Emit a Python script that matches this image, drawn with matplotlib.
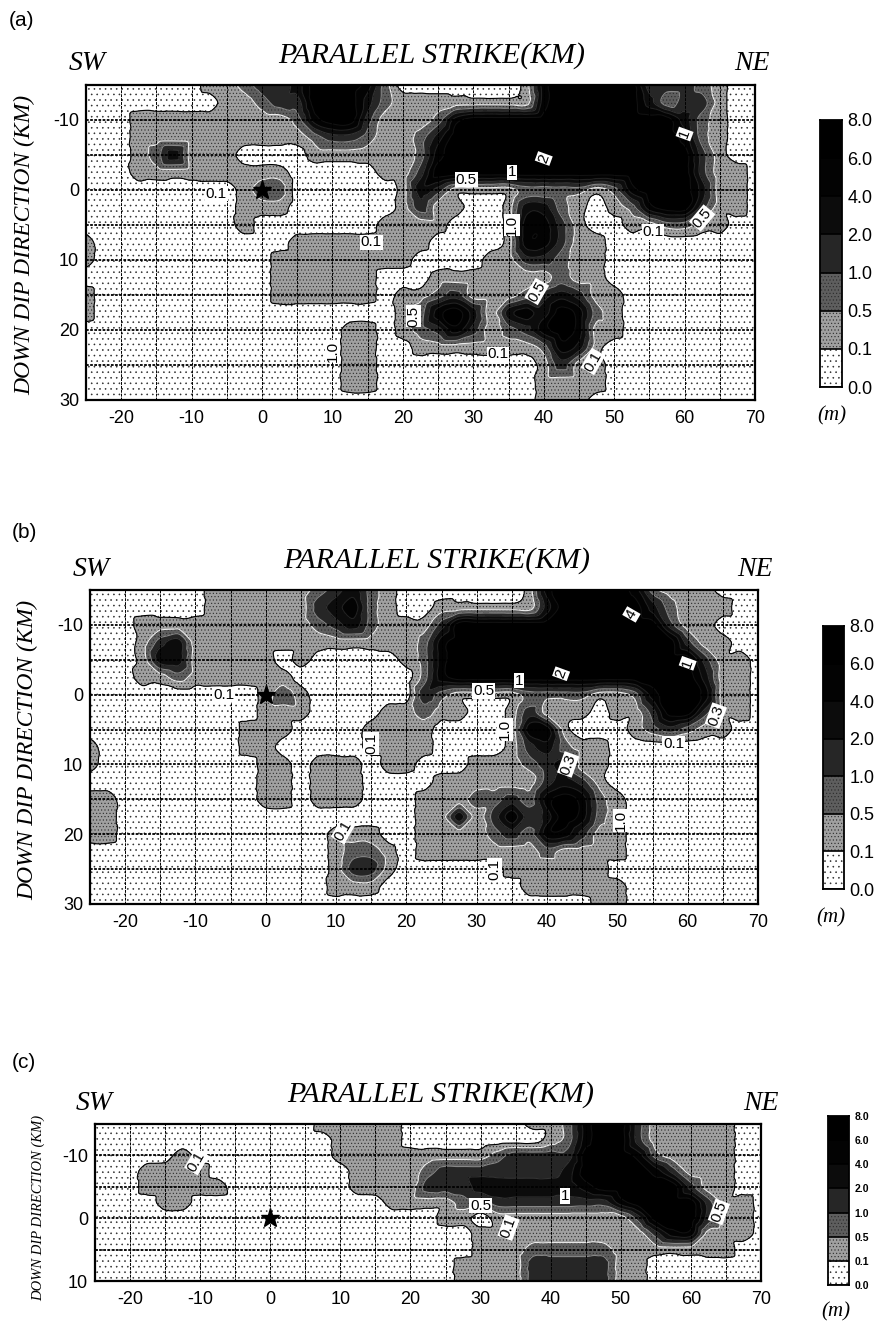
import numpy as np
import matplotlib
matplotlib.use("Agg")
import matplotlib.pyplot as plt
import matplotlib.tri as mtri

plt.rcParams['hatch.linewidth'] = 0.4
plt.rcParams['hatch.color'] = '#2a2a2a'
plt.rcParams['axes.unicode_minus'] = False

W, H = 883, 1325

# slip band per grid node: 0 <0.1, 1 0.1-0.5, 2 0.5-1, 3 1-2, 4 2-4, 5 4-6, 6 6-8 (m)
strike_km = np.arange(-25, 70.1, 2.5)
dip_ab_km = np.arange(-15, 30.1, 2.5)
dip_c_km = np.arange(-15, 10.1, 2.5)

bands_a = [
    "000000011233466652000000015666663332100",
    "000000001123366642111111115666664233100",
    "000111111111256631112566666666666642100",
    "000111111111123321124666666666666652100",
    "000124111000011111125666666666666663100",
    "000111111111000001136666666666666663110",
    "000000000122000000143111122221256664110",
    "000000000111000000131100144210125663110",
    "000000000100000001111000155310011221100",
    "100000000000111111110000155311000000000",
    "100000000001111111100001133211000000000",
    "000000000001111110001111111211000000000",
    "100000000001111110112311123431100000000",
    "100000000000000000125641454652100000000",
    "000000000000000110123531235651100000000",
    "000000000000000110011111112541000000000",
    "000000000000000110000000001311000000000",
    "000000000000000110000000001111000000000",
    "000000000000000000000000001110000000000",
]
bands_b = [
    "000000011111123421000000015666652111000",
    "000000011111134521001111114666664211100",
    "000111111111123421113666666666666311000",
    "000134111111111111125666666666666631100",
    "000144111110100000125666666666666663110",
    "000112111111000000025666666666666664110",
    "000000000012100000032111122221125665110",
    "000000000011100001121100131110113663110",
    "000000000111000011110000155100012321100",
    "100000000110000011110000134211000000000",
    "100000000011011101100011123411000000000",
    "000000000011011100001111113431000000000",
    "110000000011011100011122325652100000000",
    "110000000000000000011413534652100000000",
    "110000000000001110011112325531100000000",
    "000000000000001221011111112111100000000",
    "000000000000001331000000111111000000000",
    "000000000000001110000000011111100000000",
    "000000000000000000000000000001100000000",
]
bands_c = [
    "000000000000011111000000011256631111100",
    "000000000000001111000000001256631111100",
    "000001000000001111111112333366652111100",
    "000111100000000111123333333466665311100",
    "000111110000000111133344444456666631100",
    "000011000000000001111223333333566663110",
    "000000000000000000001101111111136663110",
    "000000000000000000000011111111113551110",
    "000000000000000000000011122222111111100",
    "000000000000000000000111133333110000000",
    "000000000000000000000111133333110000000",
]

colorbar_labels = ["0.0", "0.1", "0.5", "1.0", "2.0", "4.0", "6.0", "8.0"]
x_ticks = [-20, -10, 0, 10, 20, 30, 40, 50, 60, 70]
y_ticks_ab = [-10, 0, 10, 20, 30]
y_ticks_c = [-10, 0, 10]

labels_a = [("0.1", -6.5, 0.5, 0), ("0.5", 29, -1.5, 0), ("1", 35.5, -2.5, 0), ("2", 40, -4.5, 70),
            ("1", 60, -8, 70), ("0.5", 62.5, 4, 50), ("0.1", 55.5, 6, 0), ("0.1", 15.5, 7.5, 0),
            ("1.0", 35.5, 5, 90), ("0.5", 39, 14.5, 60), ("0.5", 21.5, 18, 90), ("1.0", 10, 23, 90),
            ("0.1", 33.5, 23.5, 0), ("0.1", 47, 24.5, 60)]
labels_b = [("0.1", -6, 0, 0), ("0.5", 31, -0.5, 0), ("1", 36, -2, 0), ("2", 42, -3, 70),
            ("1", 60, -4.5, 70), ("4", 52, -11.5, 60), ("0.3", 64, 3, 70), ("0.1", 58, 7, 0),
            ("1.0", 34, 5, 90), ("0.3", 43, 10, 70), ("1.0", 50.5, 18, 90), ("0.1", 15, 7, 90),
            ("0.1", 32.5, 25, 90), ("0.1", 11, 19.5, 60)]
labels_c = [("0.1", -10.5, -9, 60), ("0.5", 30, -2, 0), ("1", 42, -3.5, 0),
            ("0.1", 34, 1.5, 70), ("0.5", 64, -1, 70)]

band_colors = ['#ffffff', '#a0a0a0', '#5e5e5e', '#262626', '#0c0c0c', '#030303', '#000000']
band_hatches = ['...', '.....', '.....', None, None, None, None]
levels = [-9, 0.5, 1.5, 2.5, 3.5, 4.5, 5.5, 15]
line_colors = ['k', '#eeeeee', '#888888', '#333333', '#222222', '#111111']

SANS = 'Liberation Sans'
SERIF = 'Liberation Serif'

fig = plt.figure(figsize=(W / 100, H / 100), dpi=100, facecolor='white')


def add_ax(l, t, r, b):
    return fig.add_axes([l / W, 1 - b / H, (r - l) / W, (b - t) / H])


def put(x, y, s, **kw):
    kw.setdefault('ha', 'center')
    kw.setdefault('va', 'center')
    fig.text(x / W, 1 - y / H, s, **kw)


def panel(bands, dip, box, bar, ylim, yticks, labels, texts, tick_fs, bar_fs, label_fs):
    ax = add_ax(*box)
    z = np.array([[int(c) for c in row] for row in bands], dtype=float)
    gx, gy = np.meshgrid(strike_km, dip)
    tri = mtri.Triangulation(gx.ravel(), gy.ravel())
    refiner = mtri.UniformTriRefiner(tri)
    interp = mtri.CubicTriInterpolator(tri, z.ravel(), kind='geom')
    tri_f, z_f = refiner.refine_field(z.ravel(), triinterpolator=interp, subdiv=3)
    ax.tricontourf(tri_f, z_f, levels=levels, colors=band_colors, hatches=band_hatches)
    ax.tricontour(tri_f, z_f, levels=levels[1:-1], colors=line_colors, linewidths=0.8)
    ax.set_xlim(-25, 70)
    ax.set_ylim(ylim[1], ylim[0])
    for xv in np.arange(-20, 70, 5):
        ax.axvline(xv, color='k', lw=0.7, ls=(0, (3, 1)), zorder=3)
    for yv in np.arange(ylim[0] + 5, ylim[1], 5):
        ax.axhline(yv, color='k', lw=1.3, ls=(0, (1.5, 0.8)), zorder=3)
    ax.plot([0], [0], marker='*', ms=14, color='k', mec='k', zorder=5)
    for s, xv, yv, rot in labels:
        ax.text(xv, yv, s, fontsize=label_fs, family=SANS, rotation=rot, ha='center', va='center', zorder=6,
                color='k', bbox=dict(fc='white', ec='none', pad=0.5))
    ax.set_xticks(x_ticks)
    ax.set_yticks(yticks)
    ax.tick_params(length=0, labelsize=tick_fs, pad=7)
    ax.tick_params(axis='y', pad=5)
    for t in ax.get_xticklabels() + ax.get_yticklabels():
        t.set_family(SANS)
    for s in ax.spines.values():
        s.set_linewidth(1.6)

    cax = add_ax(*bar)
    for i in range(7):
        cax.bar(0.5, 1, bottom=i, width=1, color=band_colors[i], hatch=band_hatches[i], edgecolor='#2a2a2a', lw=0)
        cax.axhline(i, color='k', lw=1.2)
    cax.set_xlim(0, 1)
    cax.set_ylim(0, 7)
    cax.set_xticks([])
    cax.yaxis.tick_right()
    cax.set_yticks(range(8))
    cax.set_yticklabels(colorbar_labels, family=SANS, fontsize=bar_fs, fontweight='bold' if bar_fs < 10 else 'normal')
    cax.tick_params(length=0, pad=4)
    for s in cax.spines.values():
        s.set_linewidth(1.3)

    for s, x, y, fam, fs, style in texts:
        put(x, y, s, family=fam, fontsize=fs, style=style)


title = "PARALLEL STRIKE(KM)"
ylab = "DOWN DIP DIRECTION (KM)"

panel(bands_a, dip_ab_km, (86, 85, 755, 400), (820, 120, 842, 387), (-15, 30), y_ticks_ab, labels_a,
      [("(a)", 21, 20, SANS, 15, 'normal'), (title, 432, 56, SERIF, 21.5, 'italic'), ("SW", 87, 63, SERIF, 20, 'italic'),
       ("NE", 752, 63, SERIF, 20, 'italic'), ("(m)", 832, 416, SERIF, 15, 'italic')], 13, 13, 11)
put(25, 245, ylab, family=SERIF, fontsize=17, style='italic', rotation=90)

panel(bands_b, dip_ab_km, (90, 590, 758, 904), (823, 626, 844, 889), (-15, 30), y_ticks_ab, labels_b,
      [("(b)", 24, 533, SANS, 15, 'normal'), (title, 437, 561, SERIF, 21.5, 'italic'), ("SW", 91, 570, SERIF, 20, 'italic'),
       ("NE", 755, 570, SERIF, 20, 'italic'), ("(m)", 831, 918, SERIF, 15, 'italic')], 13, 13, 11)
put(28, 750, ylab, family=SERIF, fontsize=17, style='italic', rotation=90)

panel(bands_c, dip_c_km, (95, 1124, 761, 1281), (828, 1116, 849, 1285), (-15, 10), y_ticks_c, labels_c,
      [("(c)", 24, 1062, SANS, 15, 'normal'), (title, 441, 1095, SERIF, 21.5, 'italic'), ("SW", 94, 1104, SERIF, 20, 'italic'),
       ("NE", 761, 1103, SERIF, 20, 'italic'), ("(m)", 836, 1312, SERIF, 15, 'italic')], 13, 7.5, 11)
put(38, 1208, ylab, family=SERIF, fontsize=10.5, style='italic', rotation=90)

fig.savefig('out.png', dpi=100)
